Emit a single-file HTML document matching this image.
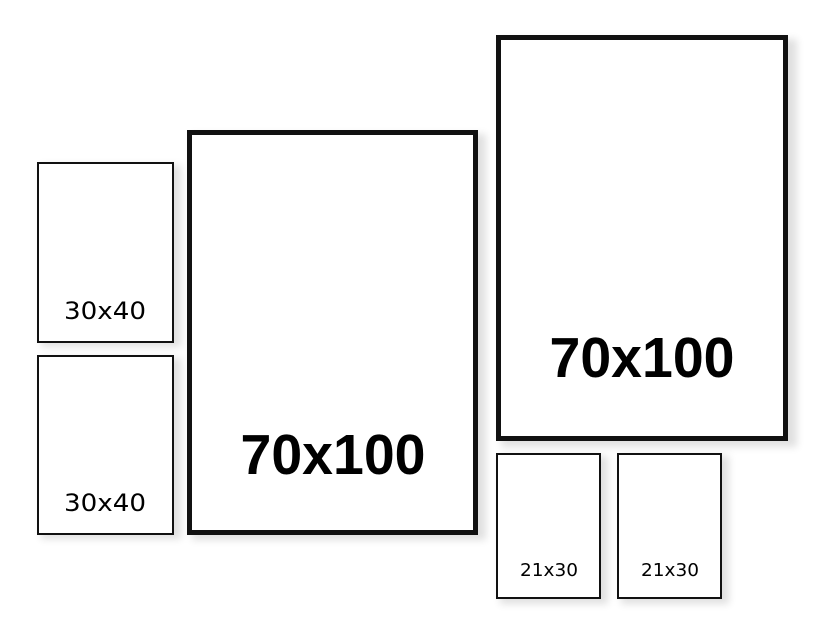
<!DOCTYPE html>
<html><head><style>
html,body{margin:0;padding:0;background:#fff;width:833px;height:625px;overflow:hidden}
svg{display:block}
text{font-family:"Liberation Sans",sans-serif;text-anchor:middle;fill:#000}
.d{font-family:"DejaVu Sans",sans-serif}
</style></head><body>
<svg width="833" height="625" viewBox="0 0 833 625">
<defs><filter id="s" x="-10%" y="-10%" width="130%" height="130%"><feGaussianBlur stdDeviation="4"/></filter></defs>
<g fill="#000" opacity="0.12" filter="url(#s)">
<rect x="41" y="165" width="140" height="182"/>
<rect x="41" y="358" width="140" height="181"/>
<rect x="192" y="134" width="294" height="406"/>
<rect x="501" y="39" width="296" height="408"/>
<rect x="500" y="456" width="108" height="148"/>
<rect x="621" y="456" width="108" height="148"/>
</g>
<g fill="#fff" stroke="#111">
<rect x="38" y="163" width="135" height="179" stroke-width="2"/>
<rect x="38" y="356" width="135" height="178" stroke-width="2"/>
<rect x="189.5" y="132.5" width="286" height="400" stroke-width="5"/>
<rect x="498.5" y="37.5" width="287" height="401" stroke-width="5"/>
<rect x="497" y="454" width="103" height="144" stroke-width="2"/>
<rect x="618" y="454" width="103" height="144" stroke-width="2"/>
</g>
<text class="d" x="105" y="319" font-size="24" textLength="82" lengthAdjust="spacingAndGlyphs">30x40</text>
<text class="d" x="105" y="511" font-size="24" textLength="82" lengthAdjust="spacingAndGlyphs">30x40</text>
<text x="333" y="474" font-size="57" font-weight="bold" textLength="185" lengthAdjust="spacingAndGlyphs">70x100</text>
<text x="642" y="377" font-size="57" font-weight="bold" textLength="185" lengthAdjust="spacingAndGlyphs">70x100</text>
<text class="d" x="549" y="576" font-size="18" textLength="58" lengthAdjust="spacingAndGlyphs">21x30</text>
<text class="d" x="670" y="576" font-size="18" textLength="58" lengthAdjust="spacingAndGlyphs">21x30</text>
</svg>
</body></html>
